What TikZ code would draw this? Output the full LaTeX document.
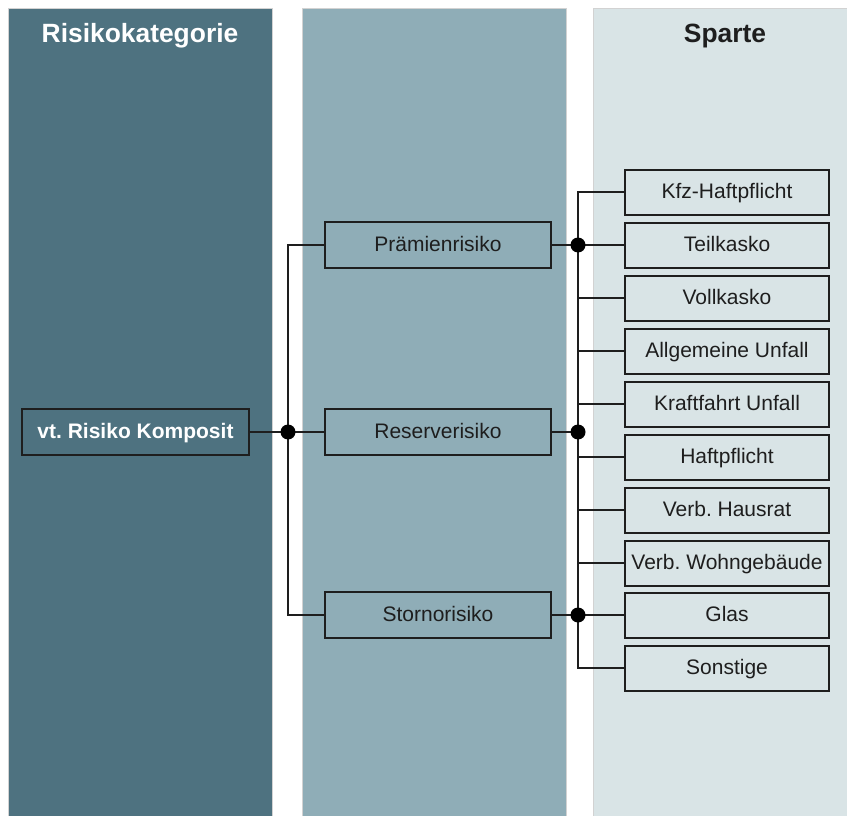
\documentclass[tikz,border=0pt]{standalone}
\usepackage{fontspec}
\setmainfont{Liberation Sans}
\frenchspacing
\definecolor{colA}{HTML}{4E7280}
\definecolor{colB}{HTML}{8FADB7}
\definecolor{colC}{HTML}{D9E4E6}
\definecolor{ink}{HTML}{1E1E1E}
\begin{document}
\begin{tikzpicture}[x=1pt,y=-1pt,
  column/.style={draw=gray!35,line width=0.6pt},
  box/.style={draw=ink,line width=2pt,minimum height=46pt,inner sep=0pt,
    text height=15pt,text depth=3pt,
    font=\fontsize{21}{24}\selectfont,text=ink},
  rootbox/.style={box,fill=colA,minimum width=227pt,text=white,font=\fontsize{21}{24}\selectfont\bfseries},
  midbox/.style={box,fill=colB,minimum width=226pt},
  leafbox/.style={box,fill=colC,minimum width=204pt,minimum height=45pt},
  heading/.style={font=\fontsize{26.4}{30}\selectfont\bfseries,text height=19pt,text depth=0pt},
  link/.style={draw=ink,line width=2pt},
  joint/.style={fill=black}]
\useasboundingbox (0,0) rectangle (847,816);
% background columns
\fill[white] (0,0) rectangle (847,816);
\filldraw[column,fill=colA] (8,8) rectangle (272,816);
\filldraw[column,fill=colB] (302,8) rectangle (566,816);
\filldraw[column,fill=colC] (593,8) rectangle (848,816);
\node[heading,text=white] (t1) at (140,33) {Risikokategorie};
\node[heading,text=ink] (t3) at (725,33) {Sparte};
% category boxes
\node[rootbox] (komp) at (135.5,432) {vt. Risiko Komposit};
\node[midbox] (praem) at (438,245) {Prämienrisiko};
\node[midbox] (reserve) at (438,432) {Reserverisiko};
\node[midbox] (storno) at (438,615) {Stornorisiko};
% lines of business
\node[leafbox] (kfz) at (727,192) {Kfz-Haftpflicht};
\node[leafbox] (teil) at (727,245) {Teilkasko};
\node[leafbox] (voll) at (727,298) {Vollkasko};
\node[leafbox] (allg) at (727,351) {Allgemeine Unfall};
\node[leafbox] (kraft) at (727,404) {Kraftfahrt Unfall};
\node[leafbox] (haft) at (727,457) {Haftpflicht};
\node[leafbox] (hausrat) at (727,510) {Verb. Hausrat};
\node[leafbox] (wohn) at (727,563) {Verb. Wohngebäude};
\node[leafbox] (glas) at (727,615) {Glas};
\node[leafbox] (sonst) at (727,668) {Sonstige};
% junction points
\coordinate (j1) at (288,432);
\coordinate (j2) at (578,432);
% left tree
\draw[link] (komp.east) -- (j1);
\draw[link] (praem.west) -| (j1) |- (storno.west);
\draw[link] (j1) -- (reserve.west);
\fill[joint] (j1) circle (7.5pt);
% right tree
\draw[link] (kfz.west) -| (j2) |- (sonst.west);
\foreach \n in {teil,voll,allg,kraft,haft,hausrat,wohn,glas}
  \draw[link] (\n.west) -- (\n.west -| j2);
\foreach \n in {praem,reserve,storno} {
  \draw[link] (\n.east) -- (\n.east -| j2);
  \fill[joint] (\n.east -| j2) circle (7.5pt);
}
\end{tikzpicture}
\end{document}
